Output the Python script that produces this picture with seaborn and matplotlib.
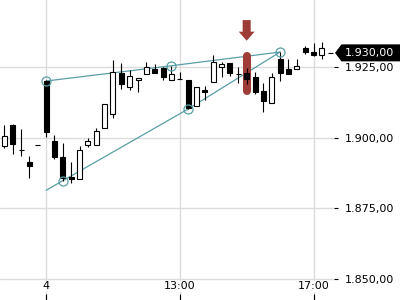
import numpy as np
import pandas as pd
import seaborn as sns
import matplotlib
matplotlib.use("Agg")
import matplotlib.pyplot as plt
import matplotlib.transforms as mtransforms
from matplotlib.patches import Polygon, FancyArrow

# ---- data (15-minute candles) ----
opens = [1897.1, 1904.5, 1895.7, 1891.4, 1897.4, 1920.05, 1898.8, 1893.2, 1886.2, 1885.3,
         1897.3, 1897.4, 1903.4, 1908.3, 1922.8, 1917.9, 1920.4, 1922.4, 1924.2, 1924.75,
         1920.3, 1920.65, 1920.4, 1911.3, 1916.8, 1919.8, 1925.1, 1926.3, 1922.7, 1922.8,
         1921.6, 1916.6, 1912.2, 1927.7, 1924.3, 1924.2, 1931.8, 1930.3, 1929.2, 1930.0]
highs = [1904.5, 1904.7, 1903.1, 1893.5, 1897.4, 1920.3, 1901.0, 1898.1, 1891.3, 1897.2,
         1899.9, 1903.4, 1911.8, 1927.4, 1926.5, 1923.9, 1921.2, 1926.7, 1926.0, 1924.9,
         1925.4, 1923.1, 1920.4, 1917.8, 1918.4, 1929.2, 1926.8, 1926.3, 1924.9, 1924.5,
         1923.1, 1919.2, 1923.0, 1930.2, 1927.7, 1927.7, 1932.5, 1933.6, 1934.0, 1930.0]
lows = [1896.4, 1894.2, 1893.5, 1885.6, 1897.4, 1900.1, 1892.4, 1884.8, 1884.1, 1885.3,
        1896.6, 1897.4, 1903.4, 1906.9, 1917.1, 1916.8, 1916.1, 1922.4, 1923.0, 1920.3,
        1920.3, 1920.65, 1910.15, 1911.3, 1913.4, 1919.8, 1921.6, 1921.8, 1919.2, 1919.0,
        1915.35, 1909.2, 1912.2, 1920.2, 1922.6, 1924.2, 1929.6, 1928.9, 1927.7, 1930.0]
closes = [1900.6, 1897.9, 1895.6, 1889.9, 1897.4, 1901.9, 1893.3, 1885.75, 1885.3, 1895.5,
          1898.7, 1902.3, 1911.8, 1923.1, 1918.9, 1921.7, 1921.2, 1925.1, 1923.0, 1921.6,
          1922.4, 1920.65, 1910.4, 1917.8, 1916.2, 1926.7, 1925.95, 1922.8, 1922.6, 1920.65,
          1916.3, 1913.1, 1921.4, 1923.0, 1922.6, 1925.35, 1930.2, 1929.1, 1931.6, 1930.0]

x_tick_pos = [5, 21, 37]
x_tick_labels = ["4", "13:00", "17:00"]
y_ticks = [1850, 1875, 1900, 1925]

upper_idx = [5, 20, 33]
upper_val = [1920.05, 1925.45, 1930.3]
lower_idx = [5, 7, 22, 33]
lower_val = [1881.4, 1884.8, 1910.15, 1930.3]
pivot_idx = [5, 7, 20, 22, 33]
pivot_val = [1920.05, 1884.8, 1925.45, 1910.15, 1930.3]

highlight_idx = 29
highlight_range = [1916.5, 1928.8]
arrow_top = 1941.6
arrow_tip = 1934.3
last_price = 1930.0

TEAL = "#5a9ea6"
RED = "#9e3c38"
GRID = "#dcdcdc"

df = pd.DataFrame({"idx": np.arange(len(opens)), "open": opens, "high": highs,
                   "low": lows, "close": closes})
df["bottom"] = df[["open", "close"]].min(axis=1)
df["height"] = (df["close"] - df["open"]).abs()
df["face"] = np.where(df["close"] > df["open"], "white", "black")

sns.set_theme(style="white")
plt.rcParams["font.family"] = ["DejaVu Sans"]

fig = plt.figure(figsize=(4, 3), dpi=100)
ax = fig.add_axes([0, 0, 334 / 400, 1])

# trend lines
sns.lineplot(x=upper_idx, y=upper_val, ax=ax, color=TEAL, lw=0.9, zorder=2)
sns.lineplot(x=lower_idx, y=lower_val, ax=ax, color=TEAL, lw=0.9, zorder=2)

# highlight capsule
ax.plot([highlight_idx, highlight_idx], highlight_range, color=RED, lw=5.8,
        solid_capstyle="round", zorder=2.5)
ax.add_patch(FancyArrow(highlight_idx, arrow_top, 0, arrow_tip - arrow_top,
                        width=0.96, head_width=1.9, head_length=3.2,
                        length_includes_head=True, color=RED, lw=0, zorder=2.5))

# candles
ax.vlines(df["idx"], df["low"], df["high"], color="black", lw=0.8, zorder=3)
ax.bar(df["idx"], df["height"], bottom=df["bottom"], width=0.6,
       color=df["face"], edgecolor="black", linewidth=0.8, zorder=4)

# pivot circles
ax.plot(pivot_idx, pivot_val, ls="none", marker="o", ms=6.5, mfc="none",
        mec=TEAL, mew=0.9, zorder=6)

ax.set_xlim(-0.52, 39.45)
ax.set_ylim(1842.6, 1948.7)

for s in ax.spines.values():
    s.set_visible(False)

ax.set_axisbelow(True)
ax.grid(True, color=GRID, lw=1)

ax.set_xticks(x_tick_pos)
ax.set_xticklabels(x_tick_labels)
ax.set_yticks(y_ticks)
ax.set_yticklabels([f"{v:,.2f}".replace(",", "X").replace(".", ",").replace("X", ".")
                    for v in y_ticks])
ax.set_xlabel("")
ax.set_ylabel("")

ax.tick_params(axis="y", left=False, right=True, labelleft=False, labelright=True,
               direction="out", length=3, width=0.8, pad=4.5, labelsize=8,
               colors="black")
ax.tick_params(axis="x", bottom=True, top=False, direction="in", length=4,
               width=0.8, pad=-13.5, labelsize=8, colors="black")
for lbl in ax.get_xticklabels():
    lbl.set_bbox(dict(facecolor="white", edgecolor="none", pad=0.5))

# last price label
blend = mtransforms.blended_transform_factory(ax.transAxes, ax.transData)
tr = mtransforms.Affine2D() + mtransforms.ScaledTranslation(1.0, last_price, blend)
ax.add_patch(Polygon([(1, 0), (7.5, 8.5), (80, 8.5), (80, -8.5), (7.5, -8.5)],
                     closed=True, transform=tr, facecolor="black", edgecolor="none",
                     clip_on=False, zorder=10))
lab = f"{last_price:,.2f}".replace(",", "X").replace(".", ",").replace("X", ".")
ax.annotate(lab, xy=(1.0, last_price), xycoords=blend, xytext=(10.5, 0),
            textcoords="offset pixels", color="white", fontsize=8,
            ha="left", va="center", zorder=11, annotation_clip=False)

fig.savefig("out.png", dpi=100)
